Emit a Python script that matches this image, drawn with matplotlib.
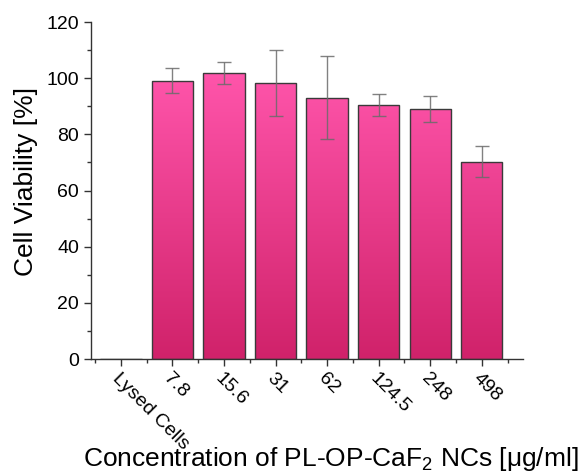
import numpy as np
import matplotlib
matplotlib.use("Agg")
import matplotlib.pyplot as plt
from matplotlib.ticker import MultipleLocator, FixedLocator
from matplotlib.colors import LinearSegmentedColormap

plt.rcParams['font.family'] = ['Liberation Sans', 'DejaVu Sans']
plt.rcParams['mathtext.fontset'] = 'custom'
plt.rcParams['mathtext.rm'] = 'Liberation Sans'
plt.rcParams['mathtext.it'] = 'Liberation Sans:italic'

categories = ["Lysed Cells", "7.8", "15.6", "31", "62", "124.5", "248", "498"]
viability = [0.0, 99.1, 101.9, 98.3, 93.1, 90.5, 89.0, 70.2]
errors = [0.0, 4.5, 4.0, 11.8, 14.9, 4.0, 4.7, 5.5]

fig = plt.figure(figsize=(5.81, 4.73), dpi=100)
ax = fig.add_axes([91/581, 114/473, (523-91)/581, (359-22)/473])

x = np.arange(len(categories))
bars = ax.bar(x, viability, width=0.8, color='none', edgecolor='#3a3a3a',
              linewidth=1.0, zorder=3)

cmap = LinearSegmentedColormap.from_list('pinkgrad', ['#D0226A', '#FF55AB'])
grad = np.linspace(0, 1, 256).reshape(-1, 1)
for b in bars:
    h = b.get_height()
    if h <= 0:
        continue
    x0 = b.get_x()
    w = b.get_width()
    im = ax.imshow(grad, extent=[x0, x0 + w, 0, 102], origin='lower', cmap=cmap,
                   aspect='auto', zorder=2, interpolation='bicubic')
    im.set_clip_path(b)

for xi, v, e in zip(x, viability, errors):
    if e > 0:
        ax.errorbar(xi, v, yerr=e, fmt='none', ecolor='#6b6b6b', elinewidth=1.0,
                    capsize=5, capthick=1.0, zorder=4, alpha=0.85)

ax.set_xlim(-0.58, 7.8)
ax.set_ylim(0, 120)
ax.spines['top'].set_visible(False)
ax.spines['right'].set_visible(False)
for s in ['left', 'bottom']:
    ax.spines[s].set_linewidth(1.0)
    ax.spines[s].set_color('#333333')

ax.yaxis.set_major_locator(MultipleLocator(20))
ax.yaxis.set_minor_locator(MultipleLocator(10))
ax.set_xticks(x)
ax.set_xticklabels(categories, rotation=-45, ha='left', va='top',
                   rotation_mode='anchor', fontsize=14)
ax.xaxis.set_minor_locator(FixedLocator(np.arange(-0.5, len(categories), 1.0)))
ax.tick_params(axis='both', which='major', direction='out', length=5, width=1.0,
               color='#333333')
ax.tick_params(axis='both', which='minor', direction='out', length=3, width=1.0,
               color='#333333')
ax.tick_params(axis='y', labelsize=14)
ax.tick_params(axis='x', pad=3)

ax.set_ylabel('Cell Viability [%]', fontsize=19)
ax.yaxis.set_label_coords(-0.123, 0.527)
ax.set_xlabel('Concentration of PL-OP-CaF$_2$ NCs [μg/ml]', fontsize=19)
ax.xaxis.set_label_coords(0.5556, -0.255)

fig.savefig('out.png', dpi=100)
